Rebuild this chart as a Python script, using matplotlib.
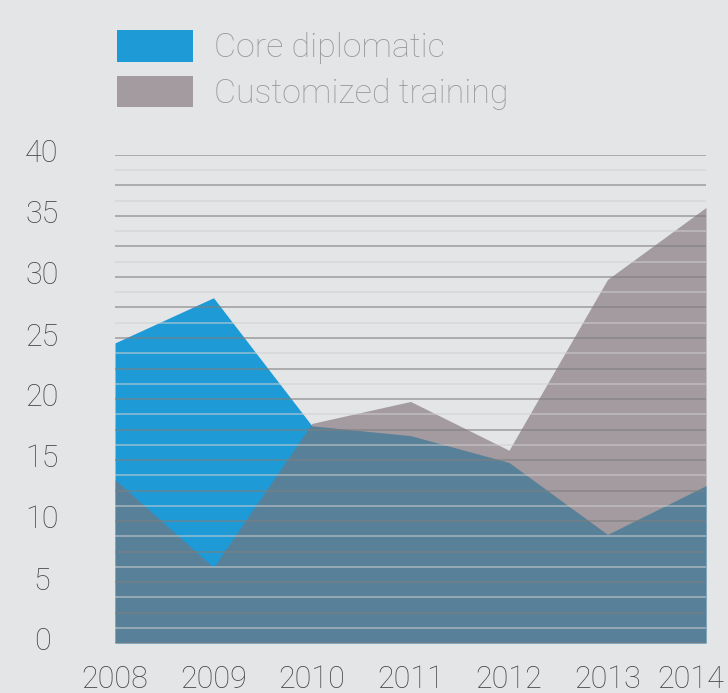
import matplotlib
matplotlib.use("Agg")
import matplotlib.pyplot as plt
import matplotlib.transforms as mtrans
from matplotlib.patches import Patch

years = [2008, 2009, 2010, 2011, 2012, 2013, 2014]
core_diplomatic = [24.6, 28.3, 17.8, 17.0, 14.8, 8.9, 12.9]
customized_training = [13.4, 6.2, 18.0, 19.8, 15.8, 29.8, 35.7]
y_ticks = [0, 5, 10, 15, 20, 25, 30, 35, 40]
series_names = ["Core diplomatic", "Customized training"]

BG = "#e4e5e7"
BLUE = "#1e9ad6"
GRAY = (125/255, 113/255, 118/255)
GRAY_ALPHA = 0.63
TICK_COLOR = "#474747"

plt.rcParams['font.family'] = ['Roboto', 'DejaVu Sans']

W, H = 728, 693
fig = plt.figure(figsize=(W/100, H/100), dpi=100, facecolor=BG)
ax = fig.add_axes([115/W, 1-643/H, (706-115)/W, (643-155)/H])
ax.set_facecolor(BG)

ax.fill_between(years, 0, core_diplomatic, color=BLUE, lw=0, zorder=1)
ax.fill_between(years, 0, customized_training, color=GRAY, alpha=GRAY_ALPHA, lw=0, zorder=2)

# grid lines every 1.25, darker at multiples of 2.5
for k in range(0, 33):
    yv = k * 1.25
    if k % 2 == 0:
        ax.axhline(yv, color="#7f7f7f", lw=1.2, alpha=0.65, zorder=3)
    else:
        ax.axhline(yv, color="#d0d0d0", lw=1.2, alpha=0.6, zorder=3)

ax.set_xlim(years[0], years[-1])
ax.set_ylim(0, 40)
for s in ax.spines.values():
    s.set_visible(False)
ax.tick_params(length=0)

ax.set_xticks(years)
ax.set_xticklabels([str(y) for y in years], fontsize=22, color=TICK_COLOR, fontweight='light')
ax.tick_params(axis='x', pad=16)
lbls = ax.get_xticklabels()
lbls[-1].set_transform(lbls[-1].get_transform() + mtrans.ScaledTranslation(-15/100, 0, fig.dpi_scale_trans))

ax.set_yticks(y_ticks)
ax.set_yticklabels([])
ytrans = mtrans.blended_transform_factory(fig.transFigure, ax.transData) + \
    mtrans.ScaledTranslation(0, 4/100, fig.dpi_scale_trans)
for v in y_ticks:
    ax.text(42/W, v, str(v), transform=ytrans, ha='center', va='center_baseline',
            fontsize=22, color=TICK_COLOR, fontweight='light')

handles = [Patch(facecolor=BLUE, edgecolor='none'),
           Patch(facecolor=GRAY, alpha=GRAY_ALPHA, edgecolor='none')]
leg = fig.legend(handles, series_names,
                 loc='upper left', bbox_to_anchor=(117/W, 1-30/H),
                 frameon=False, handlelength=2.23, handleheight=1.05,
                 handletextpad=0.62, labelspacing=0.33, borderpad=0, borderaxespad=0,
                 prop={'weight': 'light', 'size': 24.5})
for t in leg.get_texts():
    t.set_color("#9a9a9a")

fig.savefig("out.png", dpi=100, facecolor=BG)
